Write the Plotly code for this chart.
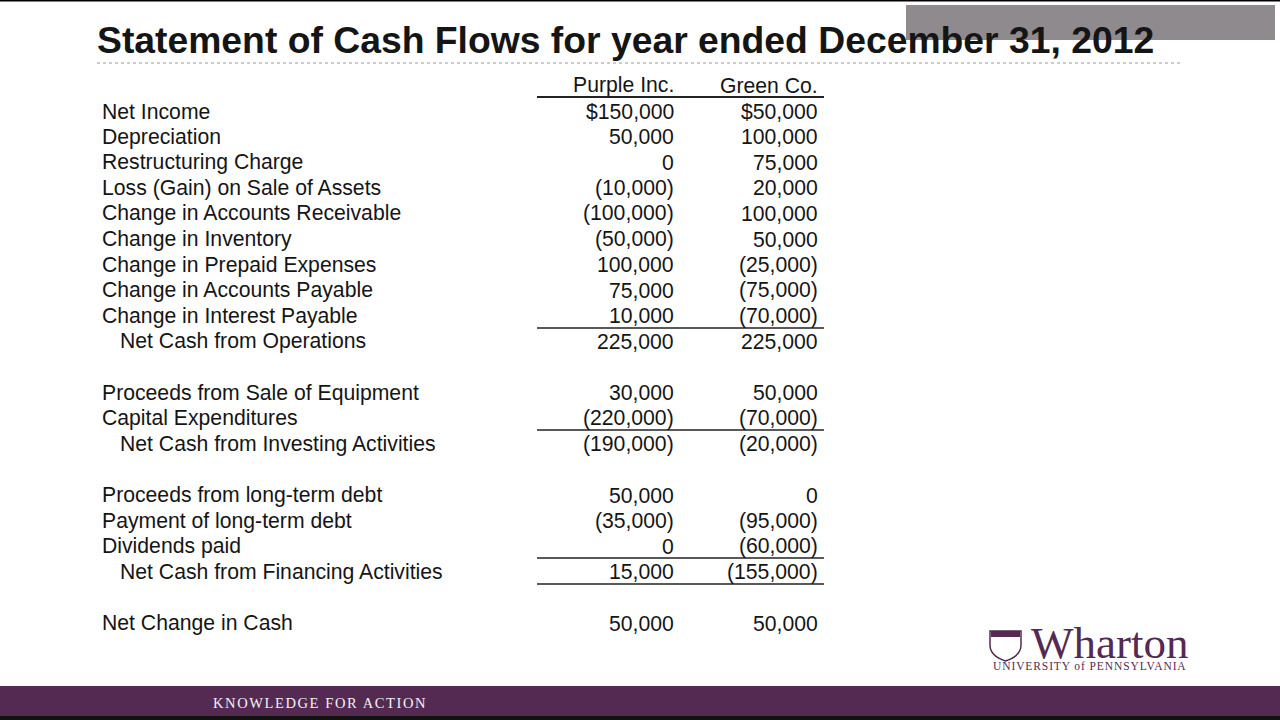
import plotly.graph_objects as go

title = "Statement of Cash Flows for year ended December 31, 2012"
col_headers = ["Purple Inc.", "Green Co."]

labels = [
    "Net Income", "Depreciation", "Restructuring Charge", "Loss (Gain) on Sale of Assets",
    "Change in Accounts Receivable", "Change in Inventory", "Change in Prepaid Expenses",
    "Change in Accounts Payable", "Change in Interest Payable", "Net Cash from Operations",
    None,
    "Proceeds from Sale of Equipment", "Capital Expenditures", "Net Cash from Investing Activities",
    None,
    "Proceeds from long-term debt", "Payment of long-term debt", "Dividends paid",
    "Net Cash from Financing Activities",
    None,
    "Net Change in Cash",
]
purple = [150000, 50000, 0, -10000, -100000, -50000, 100000, 75000, 10000, 225000,
          None, 30000, -220000, -190000, None, 50000, -35000, 0, 15000, None, 50000]
green = [50000, 100000, 75000, 20000, 100000, 50000, -25000, -75000, -70000, 225000,
         None, 50000, -70000, -20000, None, 0, -95000, -60000, -155000, None, 50000]
subtotal_rows = {"Net Cash from Operations", "Net Cash from Investing Activities",
                 "Net Cash from Financing Activities"}
footer_text = "KNOWLEDGE FOR ACTION"
logo_text = "Wharton"
logo_sub = "UNIVERSITY of PENNSYLVANIA"


def fmt(v, dollar=False):
    s = f"{abs(v):,}"
    if dollar:
        s = "$" + s
    return f"({s})" if v < 0 else s


PURPLE = "#552a52"
TXT = "#151515"
FONT = "Liberation Sans, Arial, sans-serif"
SERIF = "Liberation Serif, Times New Roman, serif"
FS = 21.2

ann = []
shapes = []

# Title
ann.append(dict(x=95, y=40, text=f"<b>{title}</b>", xanchor="left", yanchor="middle",
                font=dict(family=FONT, size=37.3, color=TXT)))

# column headers
col_x = [676, 820]
for cx, h in zip(col_x, col_headers):
    ann.append(dict(x=cx, y=85, text=h, xanchor="right", yanchor="middle",
                    font=dict(family=FONT, size=FS, color=TXT)))

y0, dy = 111, 25.6
for i, lab in enumerate(labels):
    if lab is None:
        continue
    y = y0 + i * dy
    lx = 118 if lab in subtotal_rows else 100
    ann.append(dict(x=lx, y=y, text=lab, xanchor="left", yanchor="middle",
                    font=dict(family=FONT, size=FS, color=TXT)))
    for cx, series in zip(col_x, [purple, green]):
        ann.append(dict(x=cx, y=y, text=fmt(series[i], dollar=(i == 0)), xanchor="right",
                        yanchor="middle", font=dict(family=FONT, size=FS, color=TXT)))

# rules in the table
for ly, w in [(97, 2), (328, 1.3), (430, 1.6), (558, 1.6), (584, 1.3)]:
    shapes.append(dict(type="line", x0=537, x1=824, y0=ly, y1=ly,
                       line=dict(color="#222222", width=w)))

# title underline
shapes.append(dict(type="line", x0=97, x1=1183, y0=63, y1=63,
                   line=dict(color="#9a9a9a", width=1.2, dash="dot")))
# top edge line
shapes.append(dict(type="rect", x0=0, x1=1280, y0=0, y1=1.5, fillcolor="#000000",
                   line=dict(width=0)))
# watermark box
shapes.append(dict(type="rect", x0=906, x1=1275, y0=5, y1=40, fillcolor="#8e8a8e",
                   line=dict(width=0), layer="below"))
# footer bar
shapes.append(dict(type="rect", x0=0, x1=1280, y0=686, y1=716, fillcolor=PURPLE,
                   line=dict(width=0)))
shapes.append(dict(type="rect", x0=0, x1=1280, y0=716, y1=720, fillcolor="#111111",
                   line=dict(width=0)))
ann.append(dict(x=320, y=703,
                text=f"<span style='letter-spacing:1.6px'>{footer_text}</span>",
                xanchor="center", yanchor="middle",
                font=dict(family=SERIF, size=14.5, color="#f2f2f2")))

# Wharton logo
shapes.append(dict(type="path",
                   path="M 990 631 L 1021 631 L 1021 645 Q 1021 656 1005.5 661 Q 990 656 990 645 Z",
                   fillcolor="white", line=dict(color=PURPLE, width=1.5)))
shapes.append(dict(type="rect", x0=991, x1=1020, y0=631, y1=637, fillcolor=PURPLE,
                   line=dict(width=0)))
ann.append(dict(x=1109, y=643, text=logo_text, xanchor="center", yanchor="middle",
                font=dict(family=SERIF, size=45, color=PURPLE)))
ann.append(dict(x=1090, y=666,
                text=f"<span style='letter-spacing:0.9px'>{logo_sub}</span>",
                xanchor="center", yanchor="middle",
                font=dict(family=SERIF, size=11.5, color=PURPLE)))

fig = go.Figure()
fig.update_layout(
    width=1280, height=720, margin=dict(l=0, r=0, t=0, b=0),
    paper_bgcolor="white", plot_bgcolor="white", showlegend=False,
    xaxis=dict(range=[0, 1280], visible=False, fixedrange=True),
    yaxis=dict(range=[720, 0], visible=False, fixedrange=True),
    annotations=[dict(a, xref="x", yref="y", showarrow=False) for a in ann],
    shapes=[dict(s, xref="x", yref="y") for s in shapes],
)
fig.write_html("out.html", config={"displayModeBar": False},
               post_script="document.body.style.margin='0';")
